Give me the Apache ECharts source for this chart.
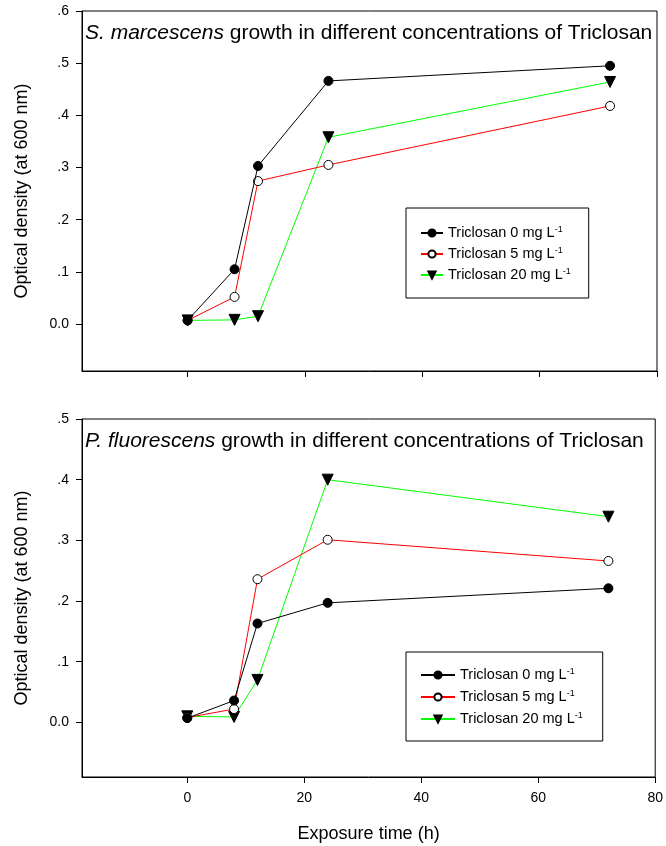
<!DOCTYPE html>
<html>
<head>
<meta charset="utf-8">
<script src="https://cdn.jsdelivr.net/npm/echarts@6/dist/echarts.min.js"></script>
<style>
html,body{margin:0;padding:0;background:#fff;}
#chart{width:666px;height:846px;}
</style>
</head>
<body>
<div id="chart"></div>
<script>
// Data
const hours = [0, 8, 12, 24, 72];
const seriesNames = ['Triclosan 0 mg L-1', 'Triclosan 5 mg L-1', 'Triclosan 20 mg L-1'];
// S. marcescens (top panel)
const smarc0 = [0.007, 0.105, 0.303, 0.466, 0.495];
const smarc5 = [0.007, 0.052, 0.274, 0.305, 0.418];
const smarc20 = [0.007, 0.008, 0.015, 0.358, 0.464];
// P. fluorescens (bottom panel)
const pfluo0 = [0.007, 0.036, 0.163, 0.197, 0.221];
const pfluo5 = [0.008, 0.022, 0.236, 0.301, 0.266];
const pfluo20 = [0.010, 0.009, 0.070, 0.400, 0.339];
// Ticks
const xTicks = [0, 20, 40, 60, 80];
const yTicksTop = [0, 0.1, 0.2, 0.3, 0.4, 0.5, 0.6];
const yTicksBottom = [0, 0.1, 0.2, 0.3, 0.4, 0.5];

const FONT = 'Liberation Sans, Arial, sans-serif';
const pairs = a => hours.map((h, i) => [h, a[i]]);
const fmtY = v => (Math.abs(v) < 1e-9 ? '0.0' : '.' + Math.round(v * 10));

const styles = [
  { line: '#000000', symbol: 'circle', fill: '#000000', rot: 0, size: 9 },
  { line: '#ff0000', symbol: 'circle', fill: '#ffffff', rot: 0, size: 9 },
  { line: '#00ff00', symbol: 'triangle', fill: '#000000', rot: 180, size: 11 }
];

function mkSeries(data, idx, g) {
  const s = styles[idx];
  return {
    type: 'line',
    name: seriesNames[idx],
    xAxisIndex: g, yAxisIndex: g,
    data: pairs(data),
    symbol: s.symbol, symbolSize: s.size, symbolRotate: s.rot,
    showSymbol: true,
    lineStyle: { color: s.line, width: 1 },
    itemStyle: { color: s.fill, borderColor: '#000', borderWidth: 1 },
    z: 10 - idx,
    animation: false
  };
}

function xAxis(g, showLabels) {
  return {
    type: 'value', gridIndex: g, min: -18, max: 80,
    axisLine: { show: true, onZero: false, lineStyle: { color: '#000', width: 1 } },
    axisTick: { show: true, inside: false, customValues: xTicks, length: 6, lineStyle: { color: '#000' } },
    axisLabel: { show: showLabels, customValues: xTicks, color: '#000', fontSize: 14, fontFamily: FONT, margin: 14 },
    splitLine: { show: false },
    name: showLabels ? 'Exposure time (h)' : '',
    nameLocation: 'middle', nameGap: 48,
    nameTextStyle: { color: '#000', fontSize: 18, fontFamily: FONT }
  };
}
function yAxis(g, max, ticks) {
  return {
    type: 'value', gridIndex: g, min: -0.09, max: max,
    axisLine: { show: true, onZero: false, lineStyle: { color: '#000', width: 1 } },
    axisTick: { show: true, inside: false, customValues: ticks, length: 6, lineStyle: { color: '#000' } },
    axisLabel: { customValues: ticks, formatter: fmtY, color: '#000', fontSize: 14, fontFamily: FONT, margin: 13 },
    splitLine: { show: false },
    name: 'Optical density (at 600 nm)',
    nameLocation: 'middle', nameGap: 51,
    nameTextStyle: { color: '#000', fontSize: 18, fontFamily: FONT }
  };
}
const legendFmt = n => n.replace('L-1', 'L{sup|-1}');
function legend(left, top, iw, pad, gap) {
  return {
    orient: 'vertical', left: left, top: top,
    data: seriesNames,
    itemWidth: iw, itemHeight: 9, itemGap: gap,
    padding: pad,
    borderColor: '#000', borderWidth: 1, backgroundColor: '#fff',
    formatter: legendFmt,
    selectedMode: false,
    textStyle: {
      color: '#000', fontSize: 14.5, fontFamily: FONT, lineHeight: 16,
      rich: { sup: { fontSize: 9, fontFamily: FONT, color: '#000', verticalAlign: 'top', lineHeight: 16, padding: [0, 0, 6, 0] } }
    }
  };
}

const chart = echarts.init(document.getElementById('chart'), null, { renderer: 'canvas' });
chart.setOption({
  backgroundColor: '#fff',
  animation: false,
  title: [
    { text: '{i|S. marcescens} growth in different concentrations of Triclosan', left: 85, top: 23, padding: 0,
      textStyle: { fontSize: 21, fontWeight: 'normal', color: '#000', fontFamily: FONT,
        rich: { i: { fontStyle: 'italic', fontSize: 21, fontFamily: FONT, color: '#000' } } } },
    { text: '{i|P. fluorescens} growth in different concentrations of Triclosan', left: 85, top: 431, padding: 0,
      textStyle: { fontSize: 21, fontWeight: 'normal', color: '#000', fontFamily: FONT,
        rich: { i: { fontStyle: 'italic', fontSize: 21, fontFamily: FONT, color: '#000' } } } }
  ],
  grid: [
    { left: 82, top: 11, width: 575, height: 360, show: true, borderColor: '#000', borderWidth: 1, backgroundColor: 'transparent' },
    { left: 82, top: 419, width: 575, height: 358, show: true, borderColor: '#000', borderWidth: 1, backgroundColor: 'transparent' }
  ],
  xAxis: [xAxis(0, false), xAxis(1, true)],
  yAxis: [yAxis(0, 0.6, yTicksTop), yAxis(1, 0.5, yTicksBottom)],
  legend: [
    legend(406, 208, 22, [17, 18, 15, 14], 5),
    legend(406, 652, 34, [15, 20, 14, 14], 6)
  ],
  series: [
    mkSeries(smarc0, 0, 0), mkSeries(smarc5, 1, 0), mkSeries(smarc20, 2, 0),
    mkSeries(pfluo0, 0, 1), mkSeries(pfluo5, 1, 1), mkSeries(pfluo20, 2, 1)
  ]
});
</script>
</body>
</html>
